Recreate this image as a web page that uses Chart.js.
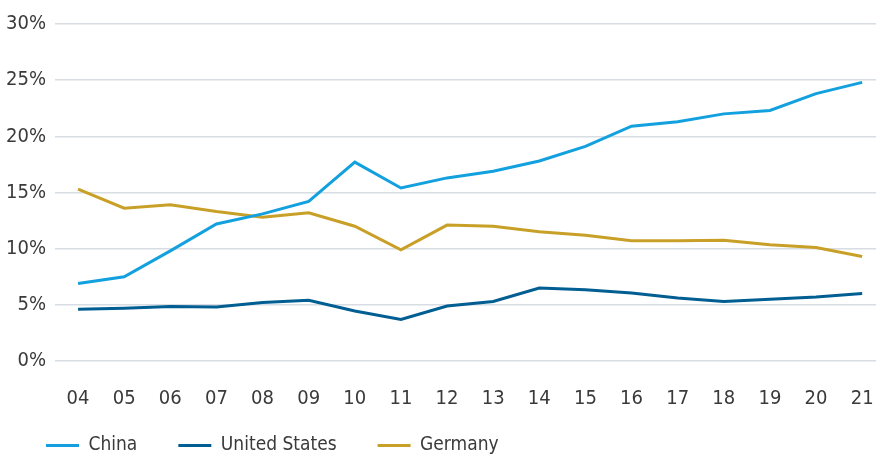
<!DOCTYPE html>
<html lang="en">
  <head>
    <meta charset="UTF-8" />
    <title>Share by country</title>
    <script src="https://cdn.jsdelivr.net/npm/chart.js"></script>
    <style>
      * {
        margin: 0;
        padding: 0;
        box-sizing: border-box;
      }
      body {
        background: #ffffff;
        overflow: hidden;
      }
      .chart-box {
        position: relative;
        width: 876px;
        height: 456px;
      }
    </style>
  </head>
  <body>
    <div class="chart-box">
      <canvas id="shareChart"></canvas>
    </div>
    <script>
      // years 2004..2021, shown as two digits
      const years = [4, 5, 6, 7, 8, 9, 10, 11, 12, 13, 14, 15, 16, 17, 18, 19, 20, 21];
      const yTicks = [0, 5, 10, 15, 20, 25, 30];

      const china = [6.9, 7.5, 9.8, 12.2, 13.1, 14.2, 17.7, 15.4, 16.3, 16.9, 17.8, 19.1, 20.9, 21.3, 22.0, 22.3, 23.8, 24.8];
      const unitedStates = [4.6, 4.7, 4.85, 4.8, 5.2, 5.4, 4.45, 3.7, 4.9, 5.3, 6.5, 6.35, 6.05, 5.6, 5.3, 5.5, 5.7, 6.0];
      const germany = [15.3, 13.6, 13.9, 13.3, 12.8, 13.2, 12.0, 9.9, 12.1, 12.0, 11.5, 11.2, 10.7, 10.7, 10.75, 10.35, 10.1, 9.3];

      // "condensed" goes in the weight slot so the font shorthand picks the narrow face
      const font = "'DejaVu Sans', sans-serif";
      const stretch = "condensed";
      const textColor = "#3a3a3a";

      function points(values) {
        return values.map((v, i) => ({ x: years[i], y: v }));
      }

      function line(label, values, color) {
        return {
          label: label,
          data: points(values),
          borderColor: color,
          backgroundColor: color,
          borderWidth: 3,
          pointRadius: 0,
          tension: 0,
          fill: false,
        };
      }

      // x axis box is kept short so the legend sits close; let its labels draw below it
      const unclipXLabels = {
        id: "unclipXLabels",
        afterLayout(chart) {
          chart.scales.x.bottom = chart.height;
        },
      };

      const ctx = document.getElementById("shareChart").getContext("2d");
      new Chart(ctx, {
        type: "line",
        data: {
          datasets: [
            line("China", china, "#12a0de"),
            line("United States", unitedStates, "#005e93"),
            line("Germany", germany, "#c9a027"),
          ],
        },
        plugins: [unclipXLabels],
        options: {
          responsive: true,
          maintainAspectRatio: false,
          animation: false,
          layout: { padding: { top: 24, right: 0, left: 5, bottom: 0 } },
          scales: {
            x: {
              type: "linear",
              min: 3.5,
              max: 21.3,
              grid: { display: false, drawTicks: false },
              border: { display: false },
              afterBuildTicks: (s) => {
                s.ticks = years.map((v) => ({ value: v }));
              },
              afterFit: (s) => {
                s.height = 34;
                s.paddingLeft = 0;
                s.paddingRight = 0;
              },
              ticks: {
                padding: 26,
                color: textColor,
                font: { family: font, size: 20, weight: stretch },
                maxRotation: 0,
                autoSkip: false,
                callback: (v) => String(v).padStart(2, "0"),
              },
            },
            y: {
              min: 0,
              max: 30,
              afterBuildTicks: (s) => {
                s.ticks = yTicks.map((v) => ({ value: v }));
              },
              afterFit: (s) => {
                s.width = 50;
              },
              grid: { color: "#d8dde4", lineWidth: 1.5, drawTicks: false },
              border: { display: false },
              ticks: {
                padding: 9,
                color: textColor,
                font: { family: font, size: 20, weight: stretch },
                callback: (v) => v + "%",
              },
            },
          },
          plugins: {
            legend: {
              position: "bottom",
              align: "start",
              maxHeight: 61,
              labels: {
                color: textColor,
                font: { family: font, size: 19, weight: stretch },
                boxWidth: 33,
                boxHeight: 3,
                padding: 41,
                generateLabels: (chart) =>
                  Chart.defaults.plugins.legend.labels
                    .generateLabels(chart)
                    .map((l) => Object.assign(l, { lineWidth: 0 })),
              },
            },
            tooltip: { enabled: false },
          },
        },
      });
    </script>
  </body>
</html>
